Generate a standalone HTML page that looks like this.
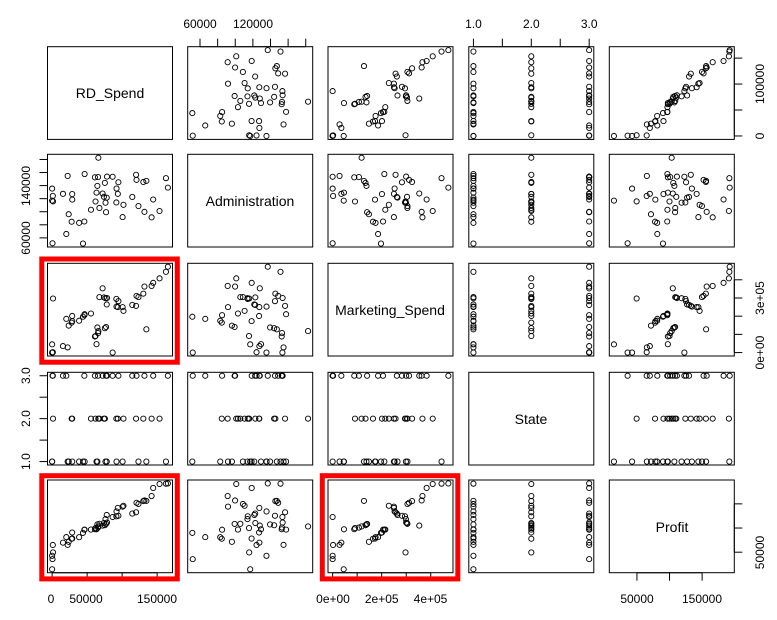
<!DOCTYPE html>
<html><head><meta charset="utf-8"><style>
html,body{margin:0;padding:0;background:#fff}
svg{display:block;font-family:"Liberation Sans",Arial,sans-serif}
</style></head><body>
<svg id="s" width="777" height="620" viewBox="0 0 777 620" xmlns="http://www.w3.org/2000/svg">
<g id="pts" fill="none" stroke="#000" stroke-width="0.9"></g>
<g id="frames" fill="none" stroke="#000" stroke-width="1"></g>
<g id="ticks" stroke="#000" stroke-width="1"></g>
<g font-size="14" text-anchor="middle" fill="#000">
<text x="110" y="98">RD_Spend</text>
<text x="250" y="206">Administration</text>
<text x="390" y="315">Marketing_Spend</text>
<text x="531" y="424">State</text>
<text x="672" y="532">Profit</text>
</g>
<g font-size="12" text-anchor="middle" fill="#000">
<text x="200" y="28">60000</text>
<text x="253" y="28">120000</text>
<text x="473.5" y="28">1.0</text>
<text x="531.3" y="28">2.0</text>
<text x="589.2" y="28">3.0</text>
<text x="51" y="603">0</text>
<text x="86" y="603">50000</text>
<text x="157" y="603">150000</text>
<text x="333" y="603">0e+00</text>
<text x="381.7" y="603">2e+05</text>
<text x="430.5" y="603">4e+05</text>
<text x="637" y="603">50000</text>
<text x="702" y="603">150000</text>
<text transform="translate(30,238) rotate(-90)">60000</text>
<text transform="translate(30,186) rotate(-90)">140000</text>
<text transform="translate(30,461.6) rotate(-90)">1.0</text>
<text transform="translate(30,418.6) rotate(-90)">2.0</text>
<text transform="translate(30,375.7) rotate(-90)">3.0</text>
<text transform="translate(764,136) rotate(-90)">0</text>
<text transform="translate(764,84) rotate(-90)">100000</text>
<text transform="translate(764,352.6) rotate(-90)">0e+00</text>
<text transform="translate(764,298) rotate(-90)">3e+05</text>
<text transform="translate(764,552.5) rotate(-90)">50000</text>
</g>
<g id="red" fill="none" stroke="#ff0000" stroke-width="5"></g>
</svg>
<script>
(function(){
var D=[[165349.2,136897.8,471784.1,3,192261.83],[162597.7,151377.59,443898.53,1,191792.06],[153441.51,101145.55,407934.54,2,191050.39],[144372.41,118671.85,383199.62,3,182901.99],[142107.34,91391.77,366168.42,2,166187.94],[131876.9,99814.71,362861.36,3,156991.12],[134615.46,147198.87,127716.82,1,156122.51],[130298.13,145530.06,323876.68,2,155752.6],[120542.52,148718.95,311613.29,3,152211.77],[123334.88,108679.17,304981.62,1,149759.96],[101913.08,110594.11,229160.95,2,146121.95],[100671.96,91790.61,249744.55,1,144259.4],[93863.75,127320.38,249839.44,2,141585.52],[91992.39,135495.07,252664.93,1,134307.35],[119943.24,156547.42,256512.92,2,132602.65],[114523.61,122616.84,261776.23,3,129917.04],[78013.11,121597.55,264346.06,1,126992.93],[94657.16,145077.58,282574.31,3,125370.37],[91749.16,114175.79,294919.57,2,124266.9],[86419.7,153514.11,0,3,122776.86],[76253.86,113867.3,298664.47,1,118474.03],[78389.47,153773.43,299737.29,3,111313.02],[73994.56,122782.75,303319.26,2,110352.25],[67532.53,105751.03,304768.73,2,108733.99],[77044.01,99281.34,140574.81,3,108552.04],[64664.71,139553.16,137962.62,1,107404.34],[75328.87,144135.98,134050.07,2,105733.54],[72107.6,127864.55,353183.81,3,105008.31],[66051.52,182645.56,118148.2,2,103282.38],[65605.48,153032.06,107138.38,3,101004.64],[61994.48,115641.28,91131.24,2,99937.59],[61136.38,152701.92,88218.23,3,97483.56],[63408.86,129219.61,46085.25,1,97427.84],[55493.95,103057.49,214634.81,2,96778.92],[46426.07,157693.92,210797.67,1,96712.8],[46014.02,85047.44,205517.64,3,96479.51],[28663.76,127056.21,201126.82,2,90708.19],[44069.95,51283.14,197029.42,1,89949.14],[20229.59,65947.93,185265.1,3,81229.06],[38558.51,82982.09,174999.3,1,81005.76],[28754.33,118546.05,172795.67,1,78239.91],[27892.92,84710.77,164470.71,2,77798.83],[23640.93,96189.63,148001.11,1,71498.49],[15505.73,127382.3,35534.17,3,69758.98],[22177.74,154806.14,28334.72,1,65200.33],[1000.23,124153.04,1903.93,3,64926.08],[1315.46,115816.21,297114.46,2,49490.75],[0,135426.92,0,1,42559.73],[542.05,51743.15,0,3,35673.41],[0,116983.8,45173.06,1,14681.4]];
var NS="http://www.w3.org/2000/svg";
var X0=[47.5,187.7,328,468.8,609.3],W=125;
var Y0=[46.7,154.3,263.3,372.3,480],H=92.7;
var mn=[],mx=[];
for(var k=0;k<5;k++){mn[k]=Infinity;mx[k]=-Infinity;for(var q=0;q<D.length;q++){mn[k]=Math.min(mn[k],D[q][k]);mx[k]=Math.max(mx[k],D[q][k]);}}
function fx(k,v,c){var r=mx[k]-mn[k];return X0[c]+(v-mn[k]+0.04*r)/(1.08*r)*W;}
function fy(k,v,rw){var r=mx[k]-mn[k];return Y0[rw]+H-(v-mn[k]+0.04*r)/(1.08*r)*H;}
function el(p,t,a){var e=document.createElementNS(NS,t);for(var q in a)e.setAttribute(q,a[q]);document.getElementById(p).appendChild(e);}
for(var i=0;i<5;i++)for(var j=0;j<5;j++){
 el("frames","rect",{x:X0[j],y:Y0[i],width:W,height:H});
 if(i==j)continue;
 for(var q=0;q<D.length;q++){var r=D[q];el("pts","circle",{cx:fx(j,r[j],j).toFixed(2),cy:fy(i,r[i],i).toFixed(2),r:2.6});}
}
function tk(x1,y1,x2,y2){el("ticks","line",{x1:x1,y1:y1,x2:x2,y2:y2});}
function axTop(c,k,vals){vals.forEach(function(v){var x=fx(k,v,c);tk(x,Y0[0],x,Y0[0]-8);});tk(fx(k,vals[0],c),Y0[0],fx(k,vals[vals.length-1],c),Y0[0]);}
function axBot(c,k,vals){var y=Y0[4]+H;vals.forEach(function(v){var x=fx(k,v,c);tk(x,y,x,y+8);});tk(fx(k,vals[0],c),y,fx(k,vals[vals.length-1],c),y);}
function axLeft(rw,k,vals){var x=X0[0];vals.forEach(function(v){var y=fy(k,v,rw);tk(x,y,x-8,y);});tk(x,fy(k,vals[0],rw),x,fy(k,vals[vals.length-1],rw));}
function axRight(rw,k,vals){var x=X0[4]+W;vals.forEach(function(v){var y=fy(k,v,rw);tk(x,y,x+8,y);});tk(x,fy(k,vals[0],rw),x,fy(k,vals[vals.length-1],rw));}
var adm=[60000,80000,100000,120000,140000,160000,180000];
axTop(1,1,adm);axTop(3,3,[1,1.5,2,2.5,3]);
axBot(0,0,[0,50000,100000,150000]);axBot(2,2,[0,100000,200000,300000,400000]);axBot(4,4,[50000,100000,150000]);
axLeft(1,1,adm);axLeft(3,3,[1,1.5,2,2.5,3]);
axRight(0,0,[0,50000,100000,150000]);axRight(2,2,[0,100000,200000,300000,400000]);axRight(4,4,[50000,100000,150000]);
[[0,2],[0,4],[2,4]].forEach(function(p){var x=X0[p[0]],y=Y0[p[1]];el("red","rect",{x:x-5.7,y:y-4.3,width:W+10.5,height:H+10.5});});
})();
</script>
</body></html>
